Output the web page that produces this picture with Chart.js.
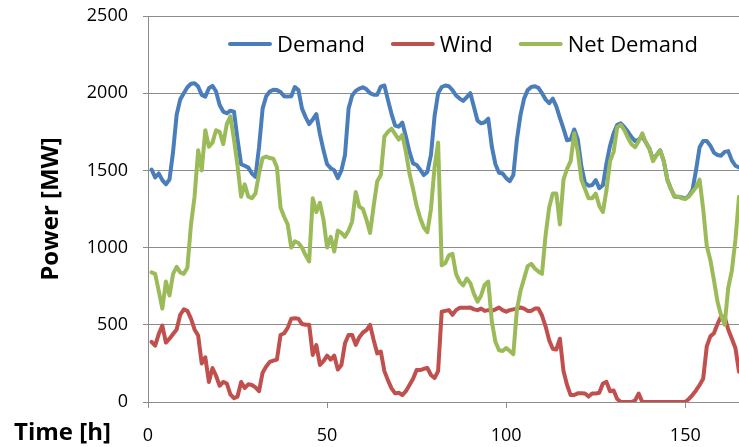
<!DOCTYPE html>
<html>
<head>
<meta charset="utf-8">
<title>Demand, Wind and Net Demand</title>
<script src="https://cdn.jsdelivr.net/npm/chart.js@4/dist/chart.umd.min.js"></script>
<style>
  html, body { margin: 0; padding: 0; background: #fff; }
  #wrap { position: relative; width: 739px; height: 447px; }
</style>
</head>
<body>
<div id="wrap"><canvas id="powerChart"></canvas></div>
<script>
// hourly values over one week, in MW
const hours = Array.from({ length: 168 }, (_, i) => i + 1);

const demand = [
  1506, 1455, 1480, 1437, 1410, 1441, 1620, 1860, 1960, 2000, 2039, 2061,
  2065, 2043, 1989, 1978, 2032, 2048, 2011, 1924, 1881, 1870, 1887, 1881,
  1700, 1540, 1530, 1518, 1480, 1458, 1650, 1900, 1980, 2011, 2022, 2020,
  2008, 1980, 1978, 1980, 2040, 2020, 1900, 1845, 1800, 1830, 1865, 1735,
  1630, 1540, 1515, 1500, 1450, 1500, 1600, 1900, 1985, 2015, 2030, 2038,
  2025, 2000, 1990, 1990, 2043, 2050, 1955, 1865, 1790, 1783, 1810, 1720,
  1620, 1545, 1535, 1505, 1470, 1490, 1600, 1850, 2000, 2040, 2050, 2045,
  2020, 1985, 1965, 1950, 1975, 2000, 1910, 1822, 1805, 1812, 1835, 1653,
  1540, 1485, 1480, 1450, 1430, 1470, 1700, 1860, 1965, 2020, 2040, 2045,
  2035, 2000, 1960, 1935, 1965, 1915, 1840, 1770, 1695, 1700, 1765, 1700,
  1525, 1420, 1400, 1405, 1437, 1385, 1404, 1545, 1660, 1740, 1795, 1805,
  1780, 1750, 1715, 1690, 1700, 1720, 1680, 1640, 1570, 1600, 1630, 1560,
  1440, 1380, 1330, 1330, 1325, 1318, 1335, 1372, 1500, 1650, 1690, 1690,
  1660, 1615, 1600, 1595, 1620, 1625, 1565, 1530, 1520, 1510, 1500, 1500
];

const wind = [
  390, 365, 440, 495, 385, 410, 440, 470, 565, 600, 590, 540,
  470, 430, 250, 290, 130, 220, 170, 105, 130, 120, 50, 25,
  35, 130, 90, 115, 110, 95, 70, 190, 230, 260, 268, 275,
  434, 445, 480, 540, 542, 540, 505, 500, 500, 305, 369, 240,
  265, 300, 275, 300, 210, 240, 380, 434, 434, 370, 420, 450,
  466, 499, 402, 315, 326, 200, 140, 88, 56, 60, 45, 70,
  110, 150, 207, 207, 215, 220, 175, 155, 200, 585, 590, 595,
  565, 595, 610, 610, 610, 612, 600, 595, 605, 590, 595, 590,
  600, 612, 595, 585, 595, 600, 605, 612, 605, 590, 590, 605,
  605, 560, 490, 400, 345, 340, 410, 200, 110, 45, 45, 56,
  56, 55, 35, 55, 55, 60, 120, 130, 70, 75, 20, 0,
  0, 0, 0, 10, 55, 0, 0, 0, 0, 0, 0, 0,
  0, 0, 0, 0, 0, 0, 20, 45, 75, 110, 150, 360,
  425, 445, 505, 555, 550, 470, 410, 350, 196, 100, 50, 30
];

const netDemand = [
  840, 830, 720, 605, 780, 690, 830, 875, 840, 830, 870, 1150,
  1330, 1630, 1500, 1760, 1653, 1680, 1760, 1750, 1670, 1800, 1850, 1700,
  1530, 1330, 1410, 1330, 1320, 1350, 1480, 1580, 1590, 1580, 1575, 1520,
  1260, 1200, 1150, 1000, 1040, 1030, 1000, 950, 910, 1320, 1230, 1290,
  1180, 1000, 1070, 975, 1110, 1095, 1070, 1110, 1170, 1360, 1265, 1250,
  1180, 1095, 1270, 1430, 1470, 1720, 1750, 1770, 1735, 1700, 1730, 1620,
  1480, 1380, 1270, 1190, 1130, 1100, 1250, 1520, 1680, 885, 900, 950,
  960, 830, 780, 755, 800, 770, 700, 650, 690, 760, 780, 520,
  390, 335, 330, 350, 330, 310, 600, 720, 800, 880, 895, 865,
  845, 830, 1080, 1260, 1350, 1350, 1150, 1440, 1510, 1560, 1740, 1620,
  1440, 1380, 1320, 1320, 1350, 1270, 1230, 1372, 1560, 1620, 1780, 1795,
  1760, 1710, 1670, 1650, 1690, 1740, 1680, 1640, 1560, 1600, 1630, 1560,
  1440, 1380, 1330, 1330, 1320, 1315, 1330, 1360, 1390, 1440, 1250, 1010,
  920, 790, 650, 560, 500, 740, 850, 1050, 1330, 1500, 1550, 1550
];

const xTicks = [0, 50, 100, 150];
const yTicks = [0, 500, 1000, 1500, 2000, 2500];

const gridGrey = "#8c8c8c";
const fontFamily = "'Open Sans', 'Noto Sans', sans-serif";

// pairs each series with the hour it belongs to
function toPoints(values) {
  return values.map((v, i) => ({ x: hours[i], y: v }));
}

// legend drawn inside the plot, one row across the top
const insideLegend = {
  id: "insideLegend",
  afterDatasetsDraw(chart, args, opts) {
    const ctx = chart.ctx;
    ctx.save();
    ctx.font = opts.font;
    ctx.textBaseline = "alphabetic";
    ctx.lineCap = "round";
    let x = opts.x;
    chart.data.datasets.forEach((ds) => {
      ctx.strokeStyle = ds.borderColor;
      ctx.lineWidth = ds.borderWidth;
      ctx.beginPath();
      ctx.moveTo(x, opts.lineY);
      ctx.lineTo(x + opts.lineLength, opts.lineY);
      ctx.stroke();
      x += opts.lineLength + opts.gap;
      ctx.fillStyle = "#000";
      ctx.fillText(ds.label, x, opts.textY);
      x += ctx.measureText(ds.label).width + opts.spacing;
    });
    ctx.restore();
  },
};

// x axis caption sits at the far left, level with the tick labels
const timeCaption = {
  id: "timeCaption",
  afterDraw(chart, args, opts) {
    const ctx = chart.ctx;
    ctx.save();
    ctx.font = opts.font;
    ctx.fillStyle = "#000";
    ctx.textBaseline = "alphabetic";
    ctx.fillText(opts.text, opts.x, opts.y);
    ctx.restore();
  },
};

const ctx = document.getElementById("powerChart").getContext("2d");
const powerChart = new Chart(ctx, {
  type: "line",
  data: {
    datasets: [
      {
        label: "Demand",
        data: toPoints(demand),
        borderColor: "#4a7ebb",
        backgroundColor: "#4a7ebb",
        borderWidth: 4,
        order: 2,
      },
      {
        label: "Wind",
        data: toPoints(wind),
        borderColor: "#c0504d",
        backgroundColor: "#c0504d",
        borderWidth: 4,
        order: 1,
      },
      {
        label: "Net Demand",
        data: toPoints(netDemand),
        borderColor: "#9bbb59",
        backgroundColor: "#9bbb59",
        borderWidth: 4,
        order: 0,
      },
    ],
  },
  options: {
    responsive: true,
    maintainAspectRatio: false,
    devicePixelRatio: 1,
    animation: false,
    elements: {
      point: { radius: 0, hoverRadius: 0 },
      line: { tension: 0, borderJoinStyle: "round", borderCapStyle: "round" },
    },
    layout: {
      padding: { top: 16, right: 0, bottom: 0, left: 0 },
    },
    plugins: {
      legend: { display: false },
      tooltip: { enabled: false },
      insideLegend: {
        font: "22px " + fontFamily,
        x: 230,
        lineY: 44,
        textY: 52,
        lineLength: 40,
        gap: 7,
        spacing: 28,
      },
      timeCaption: {
        text: "Time [h]",
        font: "bold 24px " + fontFamily,
        x: 14,
        y: 440,
      },
    },
    scales: {
      x: {
        type: "linear",
        min: 0,
        max: 165,
        afterBuildTicks: (scale) => {
          scale.ticks = xTicks.map((v) => ({ value: v }));
        },
        afterFit: (scale) => {
          scale.height = 45;
          scale.paddingLeft = 0;
          scale.paddingRight = 0;
        },
        grid: {
          drawOnChartArea: false,
          drawTicks: true,
          tickLength: 6,
          color: gridGrey,
        },
        border: { display: true, color: gridGrey, width: 1 },
        ticks: {
          padding: 17,
          maxRotation: 0,
          color: "#000",
          font: { family: fontFamily, size: 18 },
          callback: (v) => String(v),
        },
      },
      y: {
        min: 0,
        max: 2500,
        afterBuildTicks: (scale) => {
          scale.ticks = yTicks.map((v) => ({ value: v }));
        },
        afterFit: (scale) => {
          // keep the plot edge fixed; labels overflow into the margin
          scale.width = 148;
          scale.paddingTop = 0;
          scale.paddingBottom = 0;
        },
        grid: {
          color: gridGrey,
          lineWidth: 1,
          drawTicks: true,
          tickLength: 5,
        },
        border: { display: true, color: gridGrey, width: 1 },
        ticks: {
          padding: 15,
          color: "#000",
          font: { family: fontFamily, size: 18 },
          callback: (v) => String(v),
        },
        title: {
          display: true,
          text: "Power [MW]",
          color: "#000",
          padding: { top: 37, bottom: 0 },
          font: { family: fontFamily, size: 24, weight: "bold" },
        },
      },
    },
  },
  plugins: [insideLegend, timeCaption],
});
</script>
</body>
</html>
